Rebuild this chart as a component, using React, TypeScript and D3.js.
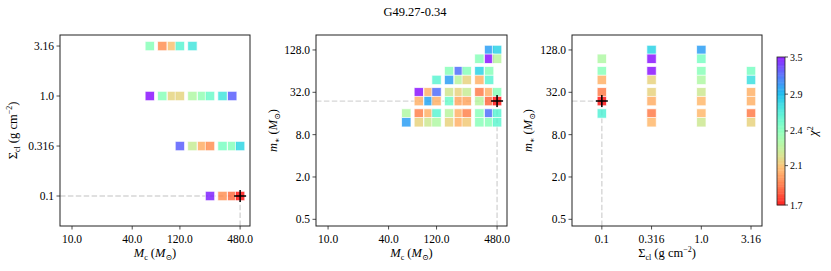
import * as d3 from "d3";

const title = "G49.27-0.34";

// tick values and labels
const mcTicks = [10, 40, 120, 480];
const sigmaTicks = [0.1, 0.316, 1.0, 3.16];
const sigmaTickLabels = ["0.1", "0.316", "1.0", "3.16"];
const mstarTicks = [0.5, 2, 8, 32, 128];
const chiTicks = [1.7, 2.06, 2.44, 2.92, 3.5];
const chiRange = [1.7, 3.5];

// best fit model
const bestMc = 480;
const bestSigma = 0.1;
const bestMstar = 24;

// [Mc, Sigma_cl, chi2]
const mcSigma: [number, number, number][] = [
  [60, 3.16, 2.44], [80, 3.16, 1.93], [100, 3.16, 2.06], [120, 3.16, 2.62], [160, 3.16, 2.72],
  [60, 1.0, 3.5], [80, 1.0, 2.44], [100, 1.0, 2.12], [120, 1.0, 2.12], [160, 1.0, 2.3],
  [200, 1.0, 2.4], [240, 1.0, 2.55], [320, 1.0, 2.72], [400, 1.0, 3.25],
  [120, 0.316, 3.25], [160, 0.316, 2.22], [200, 0.316, 2.0], [240, 0.316, 1.93],
  [320, 0.316, 2.5], [400, 0.316, 2.45], [480, 0.316, 2.8],
  [240, 0.1, 3.45], [320, 0.1, 1.93], [400, 0.1, 1.86], [480, 0.1, 1.7],
];

// [Mc, m_star, chi2]
const mcMstar: [number, number, number][] = [
  [400, 128, 3.03], [480, 128, 2.82],
  [320, 96, 2.44], [400, 96, 3.5], [480, 96, 2.27],
  [160, 64, 2.44], [200, 64, 3.2], [240, 64, 2.44], [320, 64, 2.82], [400, 64, 2.44],
  [120, 48, 2.62], [160, 48, 3.03], [200, 48, 2.27], [240, 48, 2.11], [320, 48, 2.01], [400, 48, 2.62],
  [80, 32, 3.5], [100, 32, 2.01], [120, 32, 3.2], [160, 32, 2.19], [200, 32, 2.11],
  [240, 32, 2.22], [320, 32, 1.89], [400, 32, 2.01], [480, 32, 2.44],
  [80, 24, 2.01], [100, 24, 3.0], [120, 24, 2.01], [160, 24, 2.55], [200, 24, 1.98],
  [240, 24, 1.98], [320, 24, 2.27], [400, 24, 1.85], [480, 24, 1.7],
  [60, 16, 2.3], [80, 16, 1.9], [100, 16, 2.01], [120, 16, 2.62], [160, 16, 2.27],
  [200, 16, 2.01], [240, 16, 1.9], [320, 16, 2.44], [400, 16, 3.2], [480, 16, 2.62],
  [60, 12, 3.03], [80, 12, 2.11], [100, 12, 2.2], [120, 12, 2.3], [160, 12, 2.11],
  [200, 12, 2.01], [240, 12, 2.08], [320, 12, 2.44], [400, 12, 2.44], [480, 12, 2.6],
];

// [Sigma_cl, m_star, chi2]
const sigmaMstar: [number, number, number][] = [
  [0.1, 96, 2.3], [0.1, 64, 2.44], [0.1, 48, 2.01], [0.1, 32, 1.89], [0.1, 24, 1.7], [0.1, 16, 2.65],
  [0.316, 128, 2.82], [0.316, 96, 3.5], [0.316, 64, 3.5], [0.316, 48, 2.11], [0.316, 32, 2.11],
  [0.316, 24, 2.0], [0.316, 16, 1.89], [0.316, 12, 2.03],
  [1.0, 128, 3.03], [1.0, 96, 2.5], [1.0, 64, 2.44], [1.0, 48, 2.3], [1.0, 32, 2.2],
  [1.0, 24, 2.03], [1.0, 16, 2.03], [1.0, 12, 2.2],
  [3.16, 64, 2.5], [3.16, 48, 2.75], [3.16, 32, 2.01], [3.16, 24, 2.01], [3.16, 16, 1.89], [3.16, 12, 2.11],
];

const W = 831;
const H = 271;
const top = 35;
const bottom = 226;
const font = "Liberation Serif, Times New Roman, DejaVu Serif, serif";
const grey = "#d6d6d6";

// matplotlib "rainbow", used reversed
const rainbow = (x: number) => {
  const r = Math.min(1, Math.abs(2 * x - 0.5));
  const g = Math.sin(Math.PI * x);
  const b = Math.cos((Math.PI * x) / 2);
  return d3.rgb(r * 255, g * 255, b * 255).formatHex();
};
const chiNorm = d3.scaleLog().domain(chiRange).range([0, 1]).clamp(true);
const color = (v: number) => rainbow(1 - chiNorm(v));

const mcDomain = [Math.pow(10, 0.88), Math.pow(10, 2.78)];
const sigmaDomain = [Math.pow(10, -1.3), Math.pow(10, 0.61)];
const mstarDomain = [Math.pow(10, -0.396), Math.pow(10, 2.32)];

const McLabel = () => (
  <>
    <tspan fontStyle="italic">M</tspan>
    <tspan fontSize={8} dy={3}>c</tspan>
    <tspan dy={-3}> (</tspan>
    <tspan fontStyle="italic">M</tspan>
    <tspan fontSize={8} dy={3}>⊙</tspan>
    <tspan dy={-3}>)</tspan>
  </>
);
const SigmaLabel = () => (
  <>
    <tspan>Σ</tspan>
    <tspan fontSize={8} dy={3}>cl</tspan>
    <tspan dy={-3}> (g cm</tspan>
    <tspan fontSize={8} dy={-5}>−2</tspan>
    <tspan dy={5}>)</tspan>
  </>
);
const MstarLabel = () => (
  <>
    <tspan fontStyle="italic">m</tspan>
    <tspan fontSize={8} dy={3}>∗</tspan>
    <tspan dy={-3}> (</tspan>
    <tspan fontStyle="italic">M</tspan>
    <tspan fontSize={8} dy={3}>⊙</tspan>
    <tspan dy={-3}>)</tspan>
  </>
);

type PanelProps = {
  left: number;
  right: number;
  xDomain: number[];
  yDomain: number[];
  xTicks: number[];
  xLabels: string[];
  yTicks: number[];
  yLabels: string[];
  points: [number, number, number][];
  bx: number;
  by: number;
  xLabel: any;
  yLabel: any;
  yLabelX: number;
};

function Panel(p: PanelProps) {
  const x = d3.scaleLog().domain(p.xDomain).range([p.left, p.right]);
  const y = d3.scaleLog().domain(p.yDomain).range([bottom, top]);
  const s = 9.4;
  const bxp = x(p.bx);
  const byp = y(p.by);
  return (
    <g>
      <line x1={p.left} x2={bxp} y1={byp} y2={byp} stroke={grey} strokeWidth={1.4} strokeDasharray="5.5,2.4" />
      <line x1={bxp} x2={bxp} y1={bottom} y2={byp} stroke={grey} strokeWidth={1.4} strokeDasharray="5.5,2.4" />
      {p.points.map((d, i) => (
        <rect
          key={i}
          x={x(d[0]) - s / 2}
          y={y(d[1]) - s / 2}
          width={s}
          height={s}
          fill={color(d[2])}
          fillOpacity={0.78}
          stroke="#fff"
          strokeOpacity={0.8}
          strokeWidth={0.9}
        />
      ))}
      <path d={`M${bxp - 6},${byp}H${bxp + 6}M${bxp},${byp - 6}V${byp + 6}`} stroke="#000" strokeWidth={1.5} />
      <rect x={p.left} y={top} width={p.right - p.left} height={bottom - top} fill="none" stroke="#222" strokeWidth={1} />
      {p.xTicks.map((t, i) => (
        <g key={i} transform={`translate(${x(t)},${bottom})`}>
          <line y2={3.5} stroke="#222" strokeWidth={0.8} />
          <text y={16.5} textAnchor="middle" fontSize={11.5} fontFamily={font}>{p.xLabels[i]}</text>
        </g>
      ))}
      {p.yTicks.map((t, i) => (
        <g key={i} transform={`translate(${p.left},${y(t)})`}>
          <line x2={-3.5} stroke="#222" strokeWidth={0.8} />
          <text x={-6} dy="0.35em" textAnchor="end" fontSize={11.5} fontFamily={font}>{p.yLabels[i]}</text>
        </g>
      ))}
      <text x={(p.left + p.right) / 2} y={257} textAnchor="middle" fontSize={12.5} fontFamily={font}>{p.xLabel}</text>
      <text transform={`translate(${p.yLabelX},${(top + bottom) / 2}) rotate(-90)`} textAnchor="middle" fontSize={12.5} fontFamily={font}>{p.yLabel}</text>
    </g>
  );
}

function Colorbar() {
  const cx = 777;
  const cw = 8;
  const cy = d3.scaleLog().domain(chiRange).range([205, 57]);
  const steps = d3.range(0, 64);
  const stepH = (205 - 57) / steps.length;
  return (
    <g>
      {steps.map((i) => {
        const v = cy.invert(205 - (i + 0.5) * stepH);
        return <rect key={i} x={cx} y={205 - (i + 1) * stepH} width={cw} height={stepH + 0.3} fill={color(v)} fillOpacity={0.85} />;
      })}
      <rect x={cx} y={57} width={cw} height={148} fill="none" stroke="#222" strokeWidth={0.8} />
      {chiTicks.map((t, i) => (
        <g key={i} transform={`translate(${cx + cw},${cy(t)})`}>
          <line x2={3} stroke="#222" strokeWidth={0.8} />
          <text x={5} dy="0.35em" fontSize={10} fontFamily={font}>{t.toFixed(1)}</text>
        </g>
      ))}
      <text transform={`translate(817,${(57 + 205) / 2}) rotate(-90)`} textAnchor="middle" fontSize={12.5} fontFamily={font}>
        <tspan fontStyle="italic">χ</tspan>
        <tspan fontSize={8.5} dy={-4}>2</tspan>
      </text>
    </g>
  );
}

export default function App() {
  const mcLabels = mcTicks.map((t) => t.toFixed(1));
  const mstarLabels = mstarTicks.map((t) => t.toFixed(1));
  return (
    <svg width={W} height={H} style={{ display: "block", position: "absolute", left: 0, top: 0, background: "#fff" }}>
      <text x={415} y={16} textAnchor="middle" fontSize={12.5} fontFamily={font}>{title}</text>
      <Panel
        left={60} right={250}
        xDomain={mcDomain} yDomain={sigmaDomain}
        xTicks={mcTicks} xLabels={mcLabels}
        yTicks={sigmaTicks} yLabels={sigmaTickLabels}
        points={mcSigma} bx={bestMc} by={bestSigma}
        xLabel={<McLabel />} yLabel={<SigmaLabel />} yLabelX={17}
      />
      <Panel
        left={316} right={507}
        xDomain={mcDomain} yDomain={mstarDomain}
        xTicks={mcTicks} xLabels={mcLabels}
        yTicks={mstarTicks} yLabels={mstarLabels}
        points={mcMstar} bx={bestMc} by={bestMstar}
        xLabel={<McLabel />} yLabel={<MstarLabel />} yLabelX={277}
      />
      <Panel
        left={572} right={762}
        xDomain={sigmaDomain} yDomain={mstarDomain}
        xTicks={sigmaTicks} xLabels={sigmaTickLabels}
        yTicks={mstarTicks} yLabels={mstarLabels}
        points={sigmaMstar} bx={bestSigma} by={bestMstar}
        xLabel={<SigmaLabel />} yLabel={<MstarLabel />} yLabelX={532}
      />
      <Colorbar />
    </svg>
  );
}
